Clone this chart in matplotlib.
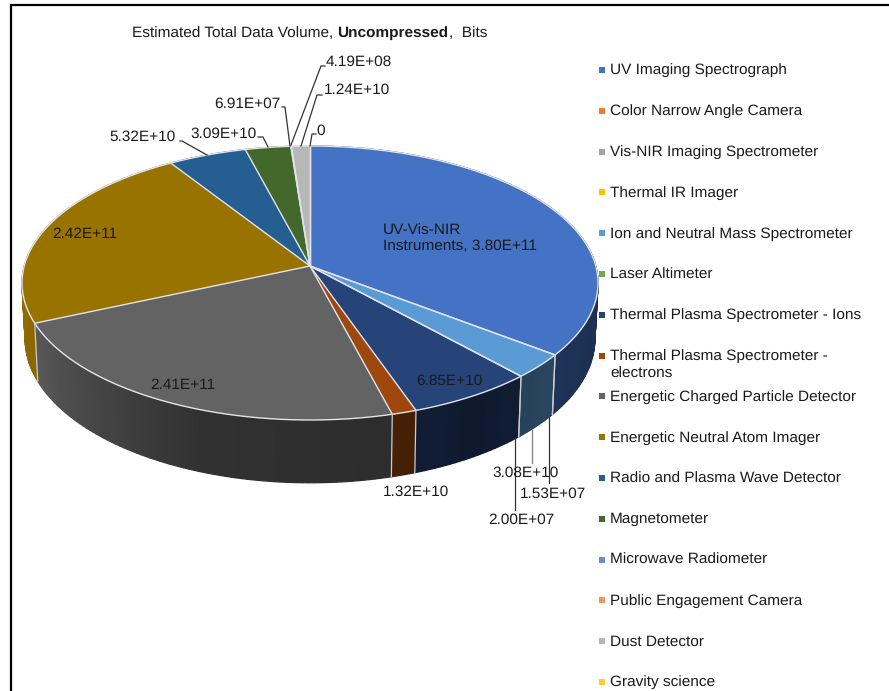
import numpy as np
import matplotlib
matplotlib.use("Agg")
from matplotlib import pyplot as plt
from matplotlib.colors import to_rgb

plt.rcParams['font.family'] = ['Liberation Sans', 'DejaVu Sans']
plt.rcParams['text.hinting'] = 'none'

legend_names = [
    "UV Imaging Spectrograph", "Color Narrow Angle Camera", "Vis-NIR Imaging Spectrometer",
    "Thermal IR Imager", "Ion and Neutral Mass Spectrometer", "Laser Altimeter",
    "Thermal Plasma Spectrometer - Ions", "Thermal Plasma Spectrometer -\nelectrons",
    "Energetic Charged Particle Detector", "Energetic Neutral Atom Imager",
    "Radio and Plasma Wave Detector", "Magnetometer", "Microwave Radiometer",
    "Public Engagement Camera", "Dust Detector", "Gravity science",
]
legend_colors = [
    "#4472C4", "#ED7D31", "#A5A5A5", "#FFC000", "#5B9BD5", "#70AD47", "#264478", "#9E480E",
    "#636363", "#997300", "#255E91", "#43682B", "#698ED0", "#F1975A", "#B7B7B7", "#FFCD33",
]

# slices clockwise from 12 o'clock, first one lumps the UV-Vis-NIR instruments
slice_values = [3.80e11, 1.53e7, 3.08e10, 2.00e7, 6.85e10, 1.32e10, 2.41e11, 2.42e11,
                5.32e10, 3.09e10, 6.91e7, 4.19e8, 1.24e10, 0]
slice_colors = ["#4472C4", "#FFC000", "#5B9BD5", "#70AD47", "#264478", "#9E480E", "#636363",
                "#997300", "#255E91", "#43682B", "#698ED0", "#F1975A", "#B7B7B7", "#FFCD33"]

# side wall brightness against angle
shade_angles = [0, 90, 130, 150, 165, 200, 246, 270, 360]
shade_levels = [0.4, 0.4, 0.45, 0.38, 0.45, 0.5, 0.9, 0.95, 0.95]

CX, CY = 310, 266
RX, RY = 285.8, 134.9
K = 0.124
DEPTH = 55
FS = 11.1
TXT = '#1a1a1a'


def project(theta, drop=0.0):
    # circle seen in perspective, theta in degrees clockwise from the back
    t = np.radians(theta)
    x, y = np.sin(t), np.cos(t)
    den = 1 + K * y
    return CX + RX * x / den * (1 - 0.011 * drop), CY - RY * y / den + drop * DEPTH / den


fig = plt.figure(figsize=(8.89, 6.91), dpi=100)
ax = fig.add_axes([0, 0, 1, 1])
ax.set_xlim(0, 889)
ax.set_ylim(691, 0)
ax.axis('off')

# frame of the slide
ax.plot([11, 11, 889], [691, 5, 5], color='black', lw=1.6, solid_joinstyle='miter')

fracs = np.array(slice_values, dtype=float) / sum(slice_values)
edges = np.concatenate([[0], np.cumsum(fracs) * 360])

# walls first, the top surface then hides the far part
for i, color in enumerate(slice_colors):
    a, b = edges[i], edges[i + 1]
    if b - a <= 0:
        continue
    base = np.array(to_rgb(color))
    steps = np.arange(a, b + 1.0, 1.0)
    steps = np.append(steps[steps < b], b)
    for t0, t1 in zip(steps[:-1], steps[1:]):
        level = np.interp((t0 + t1) / 2, shade_angles, shade_levels)
        xt0, yt0 = project(t0)
        xt1, yt1 = project(t1)
        xb0, yb0 = project(t0, 1)
        xb1, yb1 = project(t1, 1)
        c = tuple(base * level)
        ax.fill([xt0, xt1, xb1, xb0], [yt0, yt1, yb1, yb0], facecolor=c, edgecolor=c,
                lw=0.9, zorder=2)

for i, color in enumerate(slice_colors):
    a, b = edges[i], edges[i + 1]
    arc = np.linspace(a, b, max(int(b - a) * 2, 2))
    xs, ys = project(arc)
    ax.fill(np.r_[CX, xs], np.r_[CY, ys], color=color, lw=0, zorder=3)

# light seams on the top and down the visible wall
rim = np.linspace(0, 360, 721)
rx, ry = project(rim)
ax.plot(rx, ry, color='#e2e5ea', lw=1.0, zorder=4)
for e in edges[:-1]:
    xe, ye = project(e)
    ax.plot([CX, xe], [CY, ye], color='#dfe2e7', lw=1.0, zorder=4)
    if 95 < e < 265:
        xb, yb = project(e, 1)
        ax.plot([xe, xb], [ye, yb], color='#c9ccd0', lw=0.9, zorder=4)

# title, bold part in the middle
t1 = ax.text(132, 33.5, "Estimated Total Data Volume, ", fontsize=FS, va='center', color=TXT)
t2 = ax.annotate("Uncompressed", xy=(1, 0), xycoords=t1, fontsize=FS, fontweight='bold',
                 va='bottom', color=TXT)
ax.annotate(",  Bits", xy=(1, 0), xycoords=t2, fontsize=FS, va='bottom', color=TXT)

# value labels
value_labels = ["4.19E+08", "1.24E+10", "0", "6.91E+07", "3.09E+10", "5.32E+10",
                "3.08E+10", "1.53E+07", "2.00E+07", "1.32E+10", "6.85E+10", "2.41E+11", "2.42E+11"]
label_pos = [(359, 61), (357, 89), (321, 130), (247, 103), (224, 133), (143, 136),
             (526, 472), (553, 493), (521, 519), (416, 491), (449, 380), (183, 385), (85, 234)]
for s, (x, y) in zip(value_labels, label_pos):
    ax.text(x, y + 0.5, s, fontsize=FS, ha='center', va='center', color=TXT, zorder=6)
ax.text(383, 238.5, "UV-Vis-NIR\nInstruments, 3.80E+11", fontsize=FS, ha='left', va='center',
        color=TXT, zorder=6, linespacing=1.15)

# leader lines
leaders = [
    ([291, 321, 325], [145, 66, 66]),
    ([301, 317, 322], [146, 95, 95]),
    ([310, 312, 316], [146, 134, 134]),
    ([290, 285, 282], [146, 107, 107]),
    ([268, 263, 258], [147, 137, 137]),
    ([207, 182, 180], [155, 141, 141]),
    ([549, 549], [417, 483]),
    ([515, 515], [438, 510]),
]
for lx, ly in leaders:
    ax.plot(lx, ly, color='#333333', lw=0.9, zorder=5)
ax.plot([532, 532], [430, 463], color='#8a8a8a', lw=1.0, zorder=5)

# legend
for i, (name, color) in enumerate(zip(legend_names, legend_colors)):
    y = 70 + i * 40.8
    ax.plot([602], [y], marker='s', ms=4.3, color=color, mew=0, zorder=5)
    ax.text(610, y + 0.5, name.split("\n")[0], fontsize=FS, va='center', color=TXT)
    if "\n" in name:
        ax.text(610, y + 18.5, name.split("\n")[1], fontsize=FS, va='center', color=TXT)

fig.savefig('out.png', dpi=100)
